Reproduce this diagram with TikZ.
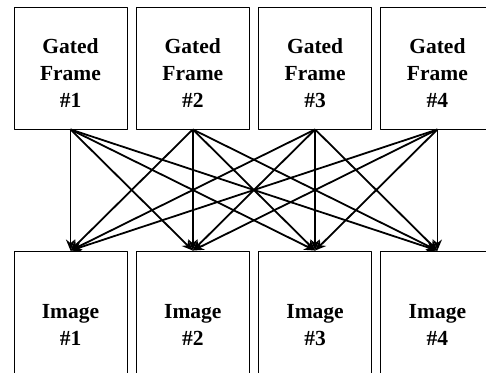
\documentclass[tikz,border=0pt]{standalone}
\usepackage{fontspec}
\setmainfont{Liberation Serif}
\usetikzlibrary{arrows.meta}
\begin{document}
\begin{tikzpicture}[x=1pt, y=1pt, line join=round, >={Stealth[length=11pt,width=9pt]},
	box/.style={draw, line width=0.9pt, minimum width=113pt, inner sep=0pt, align=center,
		font=\fontsize{21.5}{27}\selectfont\bfseries}]
	\clip (0,0) rectangle (486,372);
	\foreach \i in {1,...,4}{
		\node[box, minimum height=122pt] (G\i) at ({70.5+122.3*(\i-1)},304)
			{Gated\rule{0pt}{33pt}\\Frame\strut\\\#\i\strut};
		\node[box, minimum height=144pt] (M\i) at ({70.5+122.3*(\i-1)},49)
			{Image\rule{0pt}{27pt}\\\#\i\strut};
	}
	\foreach \i in {1,...,4}
	\foreach \j in {1,...,4}
	\draw[->, line width=1.8pt] (G\i.south) -- (M\j.north);
	
\end{tikzpicture}
\end{document}
